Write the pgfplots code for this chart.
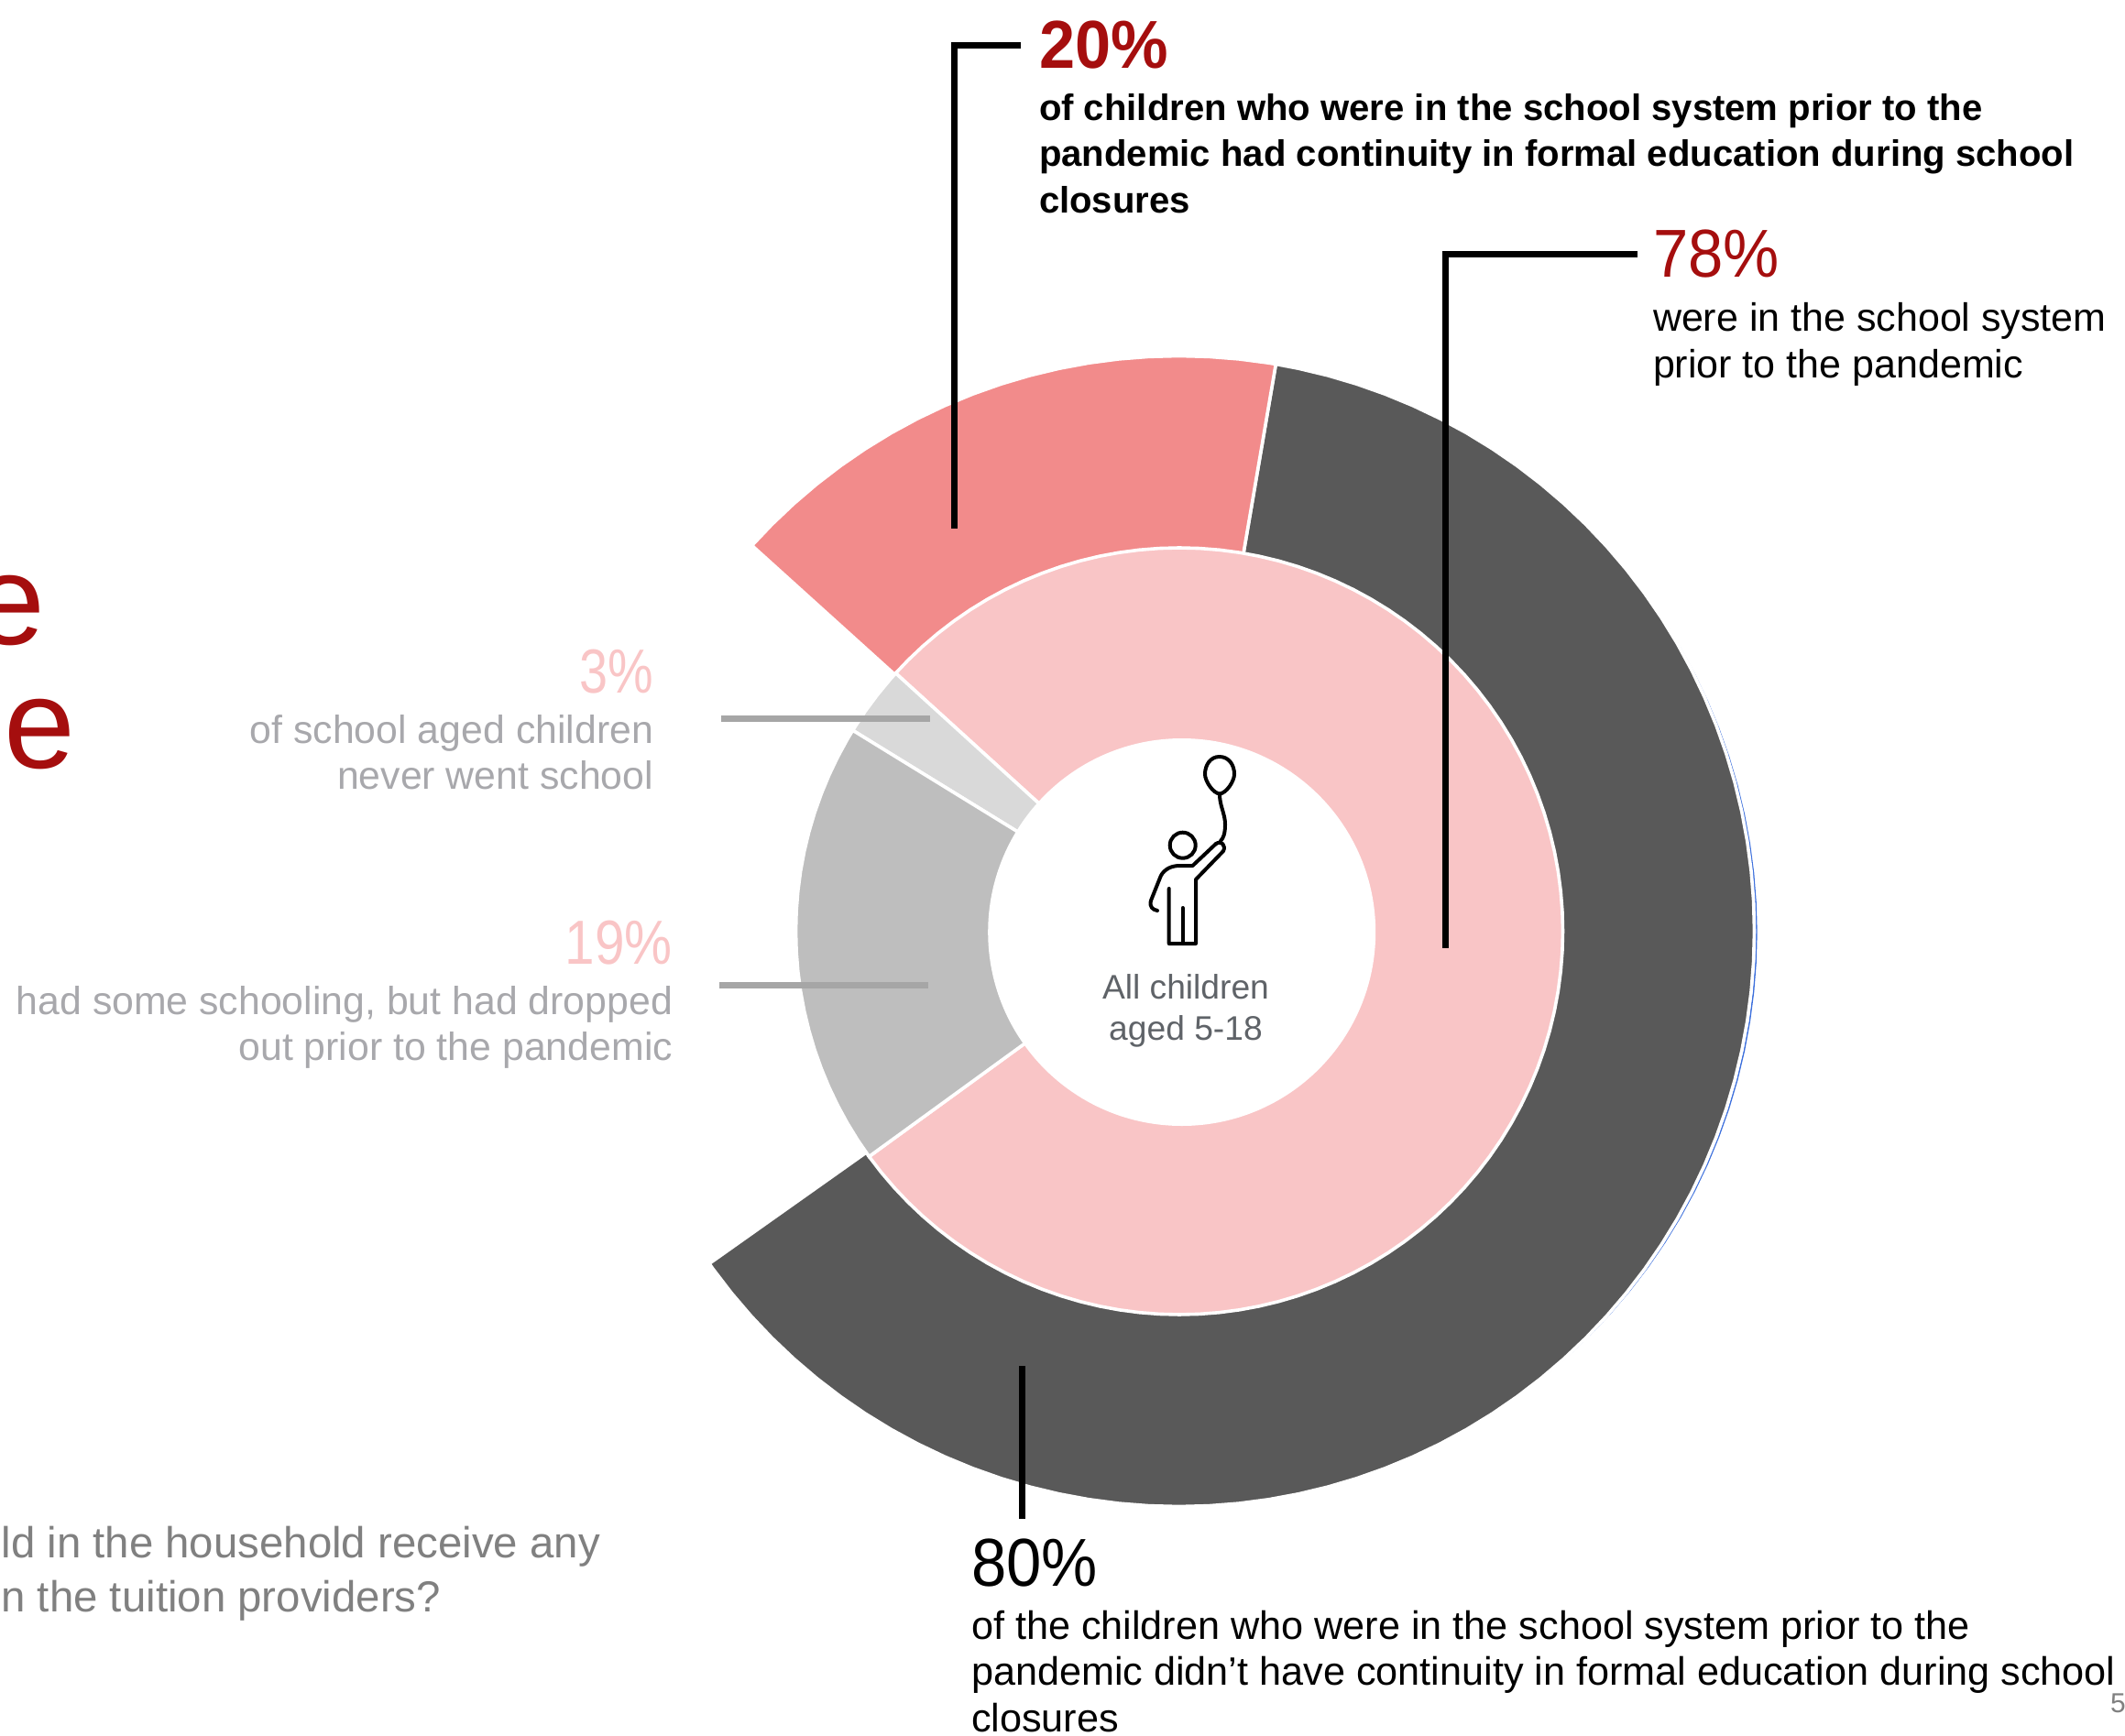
\documentclass[border=0pt]{standalone}
\usepackage{fontspec}
\usepackage{graphicx}
\usepackage{pgfplots}
\usepgfplotslibrary{polar}
\pgfplotsset{compat=1.18}
\setmainfont{Liberation Sans}

\definecolor{darkring}{HTML}{595959}
\definecolor{salmon}{HTML}{F28B8B}
\definecolor{blush}{HTML}{F9C5C6}
\definecolor{midgrey}{HTML}{BEBEBE}
\definecolor{lightgrey}{HTML}{D9D9D9}
\definecolor{leadergrey}{HTML}{A6A6A6}
\definecolor{softtext}{HTML}{A8A8AC}
\definecolor{headred}{HTML}{A50E0E}
\definecolor{notegrey}{HTML}{808080}
\definecolor{captiongrey}{HTML}{5F6368}
\definecolor{edgeblue}{HTML}{3C6FDC}

% one pixel of the canvas is half a point
\newcommand{\fs}[1]{\fontsize{#1}{#1}\selectfont}
\newcommand{\narrow}[2]{\scalebox{#1}[1]{#2}}
\tikzset{lab/.style={inner sep=0pt, outer sep=0pt}}
\pgfplotsset{
  ringaxis/.style={
    scale only axis, width=700pt, height=700pt,
    xmin=0, xmax=360, ymin=0, ymax=700,
    hide axis, clip=false, anchor=center},
  wedge/.style={draw=white, line width=1.8pt, line join=miter, no markers}
}

\begin{document}
\begin{tikzpicture}
\useasboundingbox (0,0) rectangle (1159.5pt,947.5pt);
\clip (0,0) rectangle (1159.5pt,947.5pt);

% thin blue rim, slightly off centre and mostly hidden by the outer ring
\begin{polaraxis}[ringaxis, at={(647.95pt,438.5pt)}]
\addplot[edgeblue, line width=0.8pt, no markers] coordinates {
(54,621)(51,621)(48,621)(45,621)(42,621)(39,621)(36,621)(33,621)(30,621)(27,621)(24,621)(21,621)(18,621)(15,621)(12,621)(9,621)(6,621)(3,621)(0,621)
(357,621)(354,621)(351,621)(348,621)(345,621)(342,621)(339,621)(336,621)(333,621)(330,621)(327,621)(324,621)(321,621)(318,621)(315,621)(312,621)(309,621)(306,621)(303,621)(300,621)(297,621)(294,621)(291,621)(288,621)(285,621)(282,621)(279,621)(276,621)};
\end{polaraxis}

% outer ring: continuity in formal education among those in school
\begin{polaraxis}[ringaxis, at={(643.25pt,439.25pt)}]
\addplot[wedge, fill=darkring] coordinates {
(0,0)(80.3,628)(78,628)(75,628)(72,628)(69,628)(66,628)(63,628)(60,628)(57,628)(54,628)(51,628)(48,628)(45,628)(42,628)(39,628)(36,628)(33,628)(30,628)(27,628)(24,628)(21,628)(18,628)(15,628)(12,628)(9,628)(6,628)(3,628)(0,628)
(357,628)(354,628)(351,628)(348,628)(345,628)(342,628)(339,628)(336,628)(333,628)(330,628)(327,628)(324,628)(321,628)(318,628)(315,628)(312,628)(309,628)(306,628)(303,628)(300,628)(297,628)(294,628)(291,628)(288,628)(285,628)(282,628)(279,628)(276,628)(273,628)(270,628)(267,628)(264,628)(261,628)(258,628)(255,628)(252,628)(249,628)(246,628)(243,628)(240,628)(237,628)(234,628)(231,628)(228,628)(225,628)(222,628)(219,628)(216,628)(215.3,628)(0,0)};
\addplot[wedge, fill=salmon] coordinates {
(0,0)(137.9,628)(135,628)(132,628)(129,628)(126,628)(123,628)(120,628)(117,628)(114,628)(111,628)(108,628)(105,628)(102,628)(99,628)(96,628)(93,628)(90,628)(87,628)(84,628)(81,628)(80.3,628)(0,0)};
\end{polaraxis}

% inner ring: all children aged 5-18
\begin{polaraxis}[ringaxis, at={(643.5pt,439.25pt)}]
\addplot[wedge, fill=blush] coordinates {
(0,0)(137.7,418.5)(135,418.5)(132,418.5)(129,418.5)(126,418.5)(123,418.5)(120,418.5)(117,418.5)(114,418.5)(111,418.5)(108,418.5)(105,418.5)(102,418.5)(99,418.5)(96,418.5)(93,418.5)(90,418.5)(87,418.5)(84,418.5)(81,418.5)(78,418.5)(75,418.5)(72,418.5)(69,418.5)(66,418.5)(63,418.5)(60,418.5)(57,418.5)(54,418.5)(51,418.5)(48,418.5)(45,418.5)(42,418.5)(39,418.5)(36,418.5)(33,418.5)(30,418.5)(27,418.5)(24,418.5)(21,418.5)(18,418.5)(15,418.5)(12,418.5)(9,418.5)(6,418.5)(3,418.5)(0,418.5)
(357,418.5)(354,418.5)(351,418.5)(348,418.5)(345,418.5)(342,418.5)(339,418.5)(336,418.5)(333,418.5)(330,418.5)(327,418.5)(324,418.5)(321,418.5)(318,418.5)(315,418.5)(312,418.5)(309,418.5)(306,418.5)(303,418.5)(300,418.5)(297,418.5)(294,418.5)(291,418.5)(288,418.5)(285,418.5)(282,418.5)(279,418.5)(276,418.5)(273,418.5)(270,418.5)(267,418.5)(264,418.5)(261,418.5)(258,418.5)(255,418.5)(252,418.5)(249,418.5)(246,418.5)(243,418.5)(240,418.5)(237,418.5)(234,418.5)(231,418.5)(228,418.5)(225,418.5)(222,418.5)(219,418.5)(216,418.5)(0,0)};
\addplot[wedge, fill=lightgrey] coordinates {
(0,0)(148.4,418.5)(145,418.5)(142,418.5)(139,418.5)(137.7,418.5)(0,0)};
\addplot[wedge, fill=midgrey] coordinates {
(0,0)(216,418.5)(213,418.5)(210,418.5)(207,418.5)(204,418.5)(201,418.5)(198,418.5)(195,418.5)(192,418.5)(189,418.5)(186,418.5)(183,418.5)(180,418.5)(177,418.5)(174,418.5)(171,418.5)(168,418.5)(165,418.5)(162,418.5)(159,418.5)(156,418.5)(153,418.5)(150,418.5)(148.4,418.5)(0,0)};
\end{polaraxis}

% canvas in pixel units, y running downwards
\begin{axis}[
  at={(0pt,0pt)}, anchor=south west,
  scale only axis, width=1159.5pt, height=947.5pt,
  xmin=0, xmax=2319, ymin=0, ymax=1895, y dir=reverse,
  hide axis, clip=false]

\fill[white] (1289.7,1017.5) circle [radius=105.75pt];

% leader lines
\addplot[black, line width=3.5pt, no markers, line join=miter] coordinates {(1114,49)(1041,49)(1041,577)};
\addplot[black, line width=3.5pt, no markers, line join=miter] coordinates {(1787,277)(1577,277)(1577,1035)};
\addplot[black, line width=3.5pt, no markers] coordinates {(1115,1491)(1115,1658)};
\addplot[leadergrey, line width=3.5pt, no markers] coordinates {(787,784)(1015,784)};
\addplot[leadergrey, line width=3.5pt, no markers] coordinates {(785,1075)(1013,1075)};

% child with a balloon
\begin{scope}[black, line width=2pt, line join=round, line cap=round]
\draw (1330.7,826) .. controls (1341,826) and (1347,835) .. (1347,845)
  .. controls (1347,853) and (1338,866) .. (1331,866.5)
  .. controls (1324,866) and (1315,853) .. (1315,845)
  .. controls (1315,835) and (1321,826) .. (1330.7,826) -- cycle;
\draw (1331,867) .. controls (1331,880) and (1337,888) .. (1337,900)
  .. controls (1337,910) and (1335,915) .. (1332,918);
\draw (1290.7,922.7) circle [radius=7pt];
\draw (1327,921) -- (1301.5,945) -- (1287,945)
  .. controls (1275,945) and (1268,952) .. (1266,958) -- (1256,983)
  .. controls (1254,990) and (1258,993) .. (1263,994);
\draw (1327,921) .. controls (1333,917) and (1338,923) .. (1335,929)
  -- (1305,960) -- (1305,1030) -- (1275.7,1030) -- (1275.7,970);
\draw (1290.7,991) -- (1290.7,1030);
\end{scope}

% callouts
\node[lab, anchor=base west, text=headred, font=\bfseries\fs{37}] at (1134,74) {\narrow{.95}{20\%}};
\node[lab, anchor=base west, font=\bfseries\fs{20.05}] at (1134,131.5) {of children who were in the school system prior to the};
\node[lab, anchor=base west, font=\bfseries\fs{20.05}] at (1134,181.5) {pandemic had continuity in formal education during school};
\node[lab, anchor=base west, font=\bfseries\fs{20.05}] at (1134,232) {closures};

\node[lab, anchor=base west, text=headred, font=\fs{37}] at (1804,302) {\narrow{.93}{78\%}};
\node[lab, anchor=base west, font=\fs{21.5}] at (1804,361.5) {were in the school system};
\node[lab, anchor=base west, font=\fs{21.5}] at (1804,412) {prior to the pandemic};

\node[lab, anchor=base west, font=\fs{37}] at (1060,1731) {\narrow{.93}{80\%}};
\node[lab, anchor=base west, font=\fs{21.6}] at (1060,1789.5) {of the children who were in the school system prior to the};
\node[lab, anchor=base west, font=\fs{21.6}] at (1060,1839.5) {pandemic didn’t have continuity in formal education during school};
\node[lab, anchor=base west, font=\fs{21.6}] at (1060,1890) {closures};

\node[lab, anchor=base east, text=blush, font=\fs{34}] at (713,756) {\narrow{.82}{3\%}};
\node[lab, anchor=base east, text=softtext, font=\fs{21.4}] at (713,811.5) {of school aged children};
\node[lab, anchor=base east, text=softtext, font=\fs{21.4}] at (713,861.5) {never went school};

\node[lab, anchor=base east, text=blush, font=\fs{34}] at (734,1052) {\narrow{.86}{19\%}};
\node[lab, anchor=base east, text=softtext, font=\fs{21.4}] at (734,1107.5) {had some schooling, but had dropped};
\node[lab, anchor=base east, text=softtext, font=\fs{21.4}] at (734,1157.5) {out prior to the pandemic};

\node[lab, anchor=base, text=captiongrey, font=\fs{18.6}] at (1294,1090) {All children};
\node[lab, anchor=base, text=captiongrey, font=\fs{18.6}] at (1294,1135) {aged 5-18};

% text running off the canvas edge
\node[lab, anchor=base east, text=headred, font=\fs{70}] at (49,703) {e};
\node[lab, anchor=base east, text=headred, font=\fs{70}] at (82,838) {e};
\node[lab, anchor=base east, text=notegrey, font=\fs{23.7}] at (655,1700.5) {ld in the household receive any};
\node[lab, anchor=base east, text=notegrey, font=\fs{23.7}] at (481,1759.5) {n the tuition providers?};
\node[lab, anchor=base west, text=notegrey, font=\fs{15}] at (2303,1869) {5};
\end{axis}
\end{tikzpicture}
\end{document}
